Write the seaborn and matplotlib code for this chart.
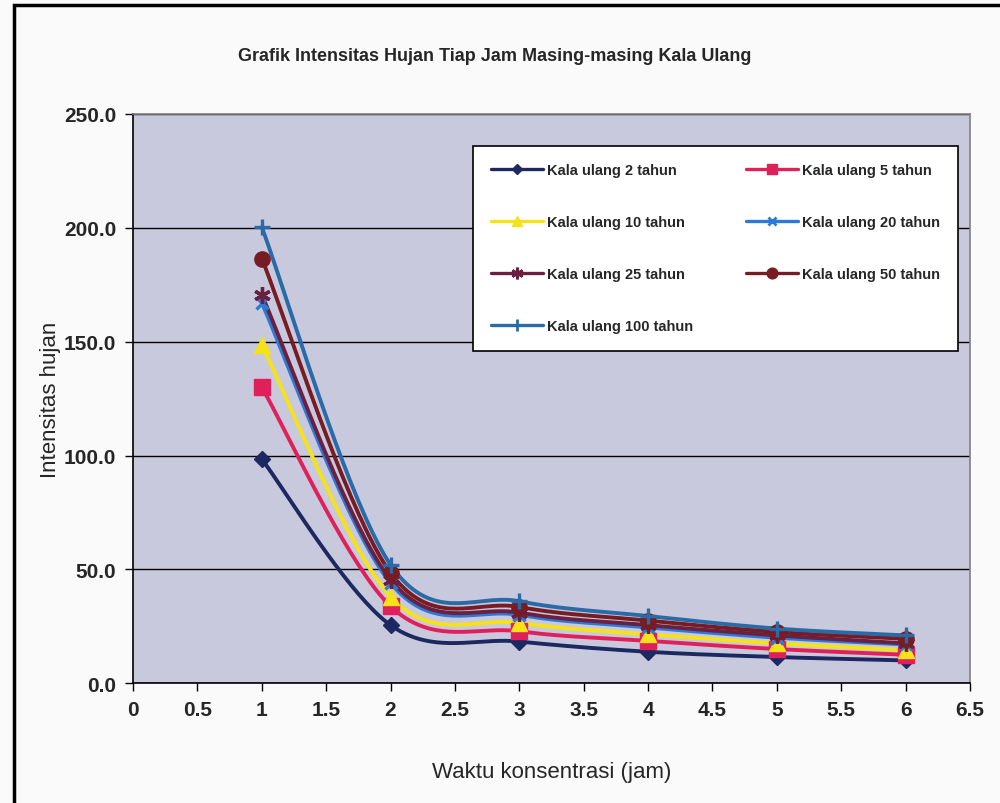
import numpy as np
import pandas as pd
import matplotlib
matplotlib.use("Agg")
import matplotlib.pyplot as plt
from matplotlib.lines import Line2D
from matplotlib.patches import Rectangle
import seaborn as sns

# ---- data ----
durations = [1, 2, 3, 4, 5, 6]
series_names = ["Kala ulang 2 tahun", "Kala ulang 5 tahun", "Kala ulang 10 tahun",
                "Kala ulang 20 tahun", "Kala ulang 25 tahun", "Kala ulang 50 tahun",
                "Kala ulang 100 tahun"]
i_2 = [98.4, 25.5, 18.3, 13.8, 11.5, 10.0]
i_5 = [130.0, 33.8, 22.8, 18.6, 15.0, 12.5]
i_10 = [148.5, 38.0, 26.5, 21.5, 17.5, 14.5]
i_20 = [167.0, 44.0, 30.0, 24.5, 20.0, 17.0]
i_25 = [170.5, 45.5, 31.0, 25.5, 21.0, 17.5]
i_50 = [186.5, 48.5, 33.5, 27.5, 22.5, 19.5]
i_100 = [200.3, 52.0, 36.0, 29.5, 24.0, 21.0]
all_values = [i_2, i_5, i_10, i_20, i_25, i_50, i_100]
x_ticks = [0, 0.5, 1, 1.5, 2, 2.5, 3, 3.5, 4, 4.5, 5, 5.5, 6, 6.5]
y_ticks = [0, 50, 100, 150, 200, 250]

colors = ["#1c2860", "#e0205a", "#f5e21a", "#2c7ad6", "#6a2040", "#761c22", "#2a6aa6"]
markers = ["D", "s", "^", "x", (6, 2, 0), "o", "+"]
msizes = [8, 11, 11, 9, 12, 11, 12]


def smooth(xs, ys, n=40):
    xs = np.asarray(xs, float)
    ys = np.asarray(ys, float)
    P = np.column_stack([xs, ys])
    P = np.vstack([P[0], P, P[-1]])
    out = []
    for k in range(1, len(P) - 2):
        p0, p1, p2, p3 = P[k - 1], P[k], P[k + 1], P[k + 2]
        c1 = p1 + (p2 - p0) / 6.0
        c2 = p2 - (p3 - p1) / 6.0
        t = np.linspace(0, 1, n)[:, None]
        b = ((1 - t) ** 3) * p1 + 3 * ((1 - t) ** 2) * t * c1 + 3 * (1 - t) * t ** 2 * c2 + t ** 3 * p2
        out.append(b if k == 1 else b[1:])
    return np.vstack(out)


rows = []
for name, vals in zip(series_names, all_values):
    for d, v in zip(durations, vals):
        rows.append({"t": d, "I": v, "series": name})
df = pd.DataFrame(rows)

srows = []
for name, vals in zip(series_names, all_values):
    c = smooth(durations, vals)
    for j, (a, b) in enumerate(c):
        srows.append({"t": a, "I": b, "series": name, "ord": j})
sdf = pd.DataFrame(srows)

sns.set_style("white")
plt.rcParams["font.family"] = ["Liberation Sans", "DejaVu Sans"]

fig = plt.figure(figsize=(10, 8.04), dpi=100)
fig.patch.set_facecolor("#fafafb")
ax = fig.add_axes([0.133, 0.149, 0.837, 0.708])
ax.set_facecolor("#c9c9dd")

palette = dict(zip(series_names, colors))
sns.lineplot(data=sdf, x="t", y="I", hue="series", palette=palette, sort=False,
             units="series", estimator=None, linewidth=2.8, legend=False, ax=ax, zorder=3)
for name, m, ms, c in zip(series_names, markers, msizes, colors):
    sub = df[df["series"] == name]
    ax.plot(sub["t"], sub["I"], linestyle="none", marker=m, markersize=ms, color=c,
            markeredgecolor=c, markeredgewidth=2.4 if m in ("x", "+") or isinstance(m, tuple) else 1,
            zorder=4)

ax.set_xlim(0, 6.5)
ax.set_ylim(0, 250)
ax.set_xticks(x_ticks)
ax.set_xticklabels([("%g" % v) for v in x_ticks], fontsize=15, fontweight="bold")
ax.set_yticks(y_ticks)
ax.set_yticklabels(["%.1f" % v for v in y_ticks], fontsize=15, fontweight="bold")
ax.yaxis.grid(True, color="black", linewidth=1.0)
ax.set_axisbelow(True)
ax.tick_params(axis="both", direction="out", length=6, width=1, color="black", bottom=True, left=True, pad=6)
for s in ["left", "bottom"]:
    ax.spines[s].set_color("black")
    ax.spines[s].set_linewidth(1.2)
for s in ["top", "right"]:
    ax.spines[s].set_color("#808080")
    ax.spines[s].set_linewidth(1.2)

ax.set_xlabel("Waktu konsentrasi (jam)", fontsize=16, labelpad=30)
ax.set_ylabel("Intensitas hujan", fontsize=16, labelpad=2)
fig.text(0.495, 0.93, "Grafik Intensitas Hujan Tiap Jam Masing-masing Kala Ulang",
         ha="center", va="center", fontsize=13, fontweight="bold")

handles = [Line2D([0], [0], color=c, marker=m, markersize=ms * 0.7, linewidth=2.4,
                  markeredgewidth=2 if m in ("x", "+") or isinstance(m, tuple) else 1)
           for c, m, ms in zip(colors, markers, msizes)]
order = [0, 2, 4, 6, 1, 3, 5]
x0 = (473 - 133) / 837
w = (958 - 473) / 837
y1 = (684 - 147) / 569
h = (347 - 147) / 569
leg = ax.legend([handles[i] for i in order], [series_names[i] for i in order],
                ncol=2, loc="upper left", bbox_to_anchor=(x0, y1 - h, w, h), mode="expand",
                borderaxespad=0, frameon=True,
                fancybox=False, edgecolor="black", framealpha=1, facecolor="white",
                prop={"weight": "bold", "size": 10.5}, handlelength=3.6, labelspacing=2.6,
                borderpad=1.2, handletextpad=0.3)
leg.get_frame().set_linewidth(1.2)

fig.add_artist(Rectangle((0.014, -0.01), 1.0, 1.003, transform=fig.transFigure,
                         fill=False, edgecolor="black", linewidth=2.5))

fig.savefig("out.png", dpi=100, facecolor=fig.get_facecolor())
